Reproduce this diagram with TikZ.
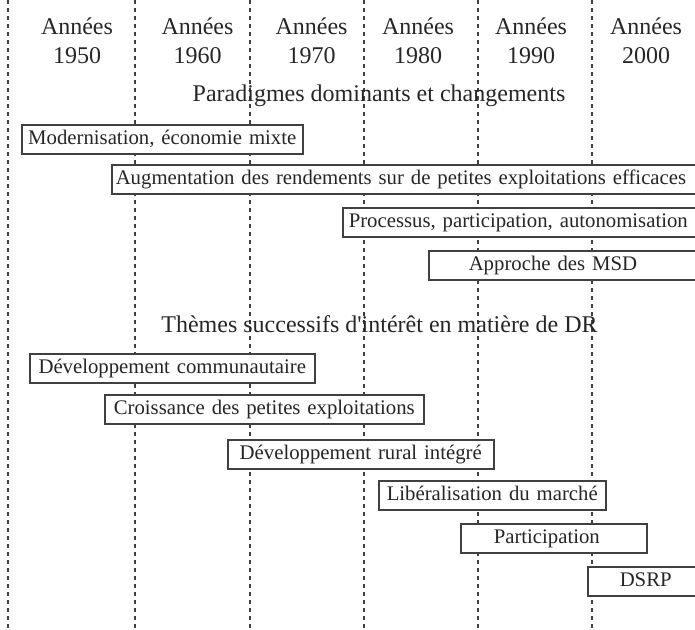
\documentclass[tikz,border=0pt]{standalone}
\usepackage{fontspec}
\setmainfont{Liberation Serif}
\begin{document}
\begin{tikzpicture}[x=0.5pt,y=-0.5pt,
  vline/.style={black!75, line width=0.6pt, dash pattern=on 2pt off 2pt},
  box/.style={draw=black!75, line width=0.75pt, fill=white, anchor=north west,
    inner ysep=0pt, text height=10pt, text depth=4.5pt, minimum height=14.5pt,
    font=\fontsize{10.38}{12}\selectfont, text=black!85},
  cbox/.style={box, inner xsep=0pt, text width=#1, minimum width=#1, align=center},
  hdr/.style={anchor=base, inner sep=0pt, font=\fontsize{12}{14.5}\selectfont, text=black!85}]
\useasboundingbox (0,0) rectangle (695,629);
\clip (0,0) rectangle (695,629);
% vertical dashed separators
\foreach \x [count=\i] in {8,135,250,364,478,592}{
  \coordinate (t\i) at (\x,0);
  \coordinate (b\i) at (\x,629);
  \draw[vline] (t\i) -- (b\i);
}
% headers
\node[hdr] (a1) at (77,34) {Années};
\node[hdr] (a2) at (197.5,34) {Années};
\node[hdr] (a3) at (311.5,34) {Années};
\node[hdr] (a4) at (418,34) {Années};
\node[hdr] (a5) at (531,34) {Années};
\node[hdr] (a6) at (646,34) {Années};
\node[hdr] (y1) at (77,63) {1950};
\node[hdr] (y2) at (197.5,63) {1960};
\node[hdr] (y3) at (311.5,63) {1970};
\node[hdr] (y4) at (418,63) {1980};
\node[hdr] (y5) at (531,63) {1990};
\node[hdr] (y6) at (646,63) {2000};
% section titles
\node[hdr] (title1) at (379,101) {Paradigmes dominants et changements};
\node[hdr] (title2) at (379.5,332) {Thèmes successifs d\textquotesingle intérêt en matière de DR};
% paradigms
\node[cbox=140.5pt] (mod) at (21,124) {Modernisation, économie mixte};
\node[box, inner xsep=2pt, text width=293pt, align=left] (aug) at (111,164) {Augmentation des rendements sur de petites exploitations efficaces};
\node[box, inner xsep=3pt, text width=175.5pt, align=left] (proc) at (342,207) {Processus, participation, autonomisation};
\node[box, inner xsep=20pt, text width=98.5pt, align=left] (msd) at (428,250) {Approche des MSD};
% themes
\node[cbox=142.5pt] (devc) at (29,353) {Développement communautaire};
\node[cbox=159.5pt] (crois) at (104,394) {Croissance des petites exploitations};
\node[cbox=133pt] (rural) at (227,439) {Développement rural intégré};
\node[cbox=113.5pt] (lib) at (378,480) {Libéralisation du marché};
\node[box, inner xsep=16.5pt, text width=60pt, align=left] (part) at (460,523) {Participation};
\node[box, inner xsep=16pt, text width=30.5pt, align=left] (dsrp) at (587,566) {DSRP};
\end{tikzpicture}
\end{document}
